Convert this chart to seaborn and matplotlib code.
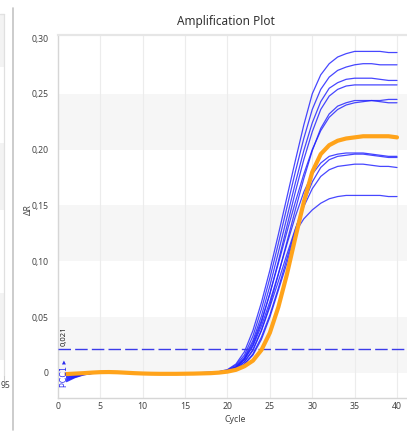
import numpy as np
import pandas as pd
import matplotlib
matplotlib.use("Agg")
import matplotlib.pyplot as plt
from matplotlib.ticker import MultipleLocator
from matplotlib.lines import Line2D
from matplotlib.patches import Rectangle
import seaborn as sns

# ---------------- data ----------------
cycles = list(range(1, 41))

well_1 = [-0.0078, -0.0042, -0.0018, -0.0005, 0.0, 0.0002, 0.0002, 0.0001, 0.0, -0.0001,
          -0.0002, -0.0002, -0.0002, -0.0001, 0.0, 0.0001, 0.0003, 0.0006, 0.0012, 0.003,
          0.008, 0.019, 0.038, 0.063, 0.092, 0.124, 0.157, 0.190, 0.222, 0.250,
          0.267, 0.277, 0.283, 0.286, 0.288, 0.288, 0.288, 0.288, 0.287, 0.287]
well_2 = [-0.0070, -0.0038, -0.0016, -0.0004, 0.0001, 0.0002, 0.0001, 0.0, -0.0001, -0.0002,
          -0.0002, -0.0001, 0.0, 0.0, 0.0001, 0.0002, 0.0003, 0.0005, 0.001, 0.0025,
          0.007, 0.016, 0.033, 0.057, 0.085, 0.116, 0.148, 0.180, 0.210, 0.236,
          0.254, 0.265, 0.271, 0.274, 0.276, 0.277, 0.277, 0.276, 0.276, 0.276]
well_3 = [-0.0062, -0.0034, -0.0014, -0.0003, 0.0, 0.0001, 0.0002, 0.0001, 0.0, -0.0001,
          -0.0001, -0.0002, -0.0001, 0.0, 0.0, 0.0001, 0.0002, 0.0004, 0.0009, 0.002,
          0.006, 0.014, 0.029, 0.051, 0.078, 0.108, 0.139, 0.170, 0.199, 0.224,
          0.243, 0.255, 0.260, 0.263, 0.264, 0.264, 0.264, 0.263, 0.262, 0.262]
well_4 = [-0.0055, -0.0030, -0.0012, -0.0003, 0.0001, 0.0001, 0.0, 0.0, -0.0001, -0.0001,
          -0.0002, -0.0001, -0.0001, 0.0, 0.0001, 0.0001, 0.0002, 0.0003, 0.0008, 0.002,
          0.005, 0.012, 0.025, 0.045, 0.071, 0.100, 0.131, 0.162, 0.191, 0.216,
          0.236, 0.248, 0.254, 0.257, 0.258, 0.258, 0.258, 0.258, 0.258, 0.258]
well_5 = [-0.0047, -0.0025, -0.0010, -0.0002, 0.0, 0.0001, 0.0001, 0.0, 0.0, -0.0001,
          -0.0001, -0.0001, 0.0, 0.0, 0.0, 0.0001, 0.0002, 0.0003, 0.0008, 0.002,
          0.005, 0.013, 0.027, 0.047, 0.071, 0.098, 0.126, 0.153, 0.178, 0.200,
          0.217, 0.229, 0.236, 0.240, 0.242, 0.243, 0.244, 0.244, 0.245, 0.245]
well_6 = [-0.0040, -0.0021, -0.0008, -0.0002, 0.0001, 0.0001, 0.0, 0.0, 0.0, -0.0001,
          -0.0001, -0.0001, -0.0001, 0.0, 0.0, 0.0001, 0.0001, 0.0003, 0.0007, 0.0015,
          0.004, 0.010, 0.020, 0.038, 0.061, 0.088, 0.117, 0.146, 0.174, 0.199,
          0.219, 0.232, 0.239, 0.242, 0.244, 0.244, 0.244, 0.243, 0.242, 0.242]
well_7 = [-0.0032, -0.0017, -0.0007, -0.0001, 0.0, 0.0, 0.0001, 0.0, 0.0, 0.0,
          -0.0001, -0.0001, 0.0, 0.0, 0.0, 0.0001, 0.0001, 0.0003, 0.0008, 0.002,
          0.005, 0.012, 0.024, 0.042, 0.064, 0.089, 0.115, 0.140, 0.162, 0.178,
          0.188, 0.194, 0.196, 0.197, 0.197, 0.197, 0.196, 0.195, 0.194, 0.194]
well_8 = [-0.0025, -0.0013, -0.0005, -0.0001, 0.0, 0.0001, 0.0, 0.0, 0.0, -0.0001,
          0.0, -0.0001, 0.0, 0.0, 0.0, 0.0, 0.0001, 0.0002, 0.0006, 0.0013,
          0.003, 0.008, 0.017, 0.032, 0.052, 0.076, 0.102, 0.128, 0.152, 0.171,
          0.184, 0.191, 0.194, 0.195, 0.196, 0.196, 0.195, 0.194, 0.193, 0.193]
well_9 = [-0.0016, -0.0009, -0.0004, -0.0001, 0.0, 0.0, 0.0, 0.0001, 0.0, 0.0,
          0.0, -0.0001, 0.0, 0.0, 0.0, 0.0, 0.0001, 0.0003, 0.0007, 0.0015,
          0.004, 0.010, 0.021, 0.038, 0.059, 0.082, 0.106, 0.129, 0.149, 0.165,
          0.176, 0.182, 0.185, 0.186, 0.187, 0.187, 0.186, 0.185, 0.185, 0.184]
well_10 = [-0.0008, -0.0005, -0.0002, 0.0, 0.0, 0.0, 0.0, 0.0, 0.0, 0.0,
           0.0, 0.0, 0.0, 0.0, 0.0, 0.0, 0.0001, 0.0002, 0.0006, 0.0013,
           0.003, 0.008, 0.016, 0.030, 0.050, 0.074, 0.098, 0.126, 0.138, 0.146,
           0.152, 0.156, 0.158, 0.159, 0.159, 0.159, 0.159, 0.159, 0.158, 0.158]
highlight_pcc1 = [-0.0010, -0.0006, -0.0002, 0.0003, 0.0007, 0.0008, 0.0006, 0.0002, -0.0002, -0.0005,
                  -0.0007, -0.0008, -0.0008, -0.0008, -0.0007, -0.0006, -0.0004, -0.0002, 0.0003, 0.0012,
                  0.0028, 0.006, 0.011, 0.0205, 0.036, 0.059, 0.088, 0.121, 0.153, 0.180,
                  0.196, 0.204, 0.208, 0.210, 0.211, 0.212, 0.212, 0.212, 0.212, 0.211]

blue_wells = [well_1, well_2, well_3, well_4, well_5, well_6, well_7, well_8, well_9, well_10]
threshold = 0.021
threshold_label = "0,021"
target_label = "PCC1 \u25b8"

xticks = [0, 5, 10, 15, 20, 25, 30, 35, 40]
xtick_labels = ["0", "5", "10", "15", "20", "25", "30", "35", "40"]
yticks = [0.0, 0.05, 0.10, 0.15, 0.20, 0.25, 0.30]
ytick_labels = ["0", "0,05", "0,10", "0,15", "0,20", "0,25", "0,30"]
band_edges = [(0.0, 0.05), (0.10, 0.15), (0.20, 0.25)]

for w in blue_wells + [highlight_pcc1]:
    assert len(w) == len(cycles)

rows = []
for i, w in enumerate(blue_wells):
    for c, v in zip(cycles, w):
        rows.append({"cycle": c, "dR": v, "well": f"W{i+1}"})
df_blue = pd.DataFrame(rows)
df_orange = pd.DataFrame({"cycle": cycles, "dR": highlight_pcc1})

# ---------------- figure ----------------
sns.set_style("white")
plt.rcParams["font.family"] = ["Noto Sans", "DejaVu Sans"]

W, H = 407, 434
fig = plt.figure(figsize=(W / 100, H / 100), dpi=100)

def fx(x):
    return x / W

def fy(y):
    return 1 - y / H

ax_left, ax_right, ax_top, ax_bot = 58, 407, 35, 397.5
ax = fig.add_axes([fx(ax_left), fy(ax_bot), (ax_right - ax_left) / W, (ax_bot - ax_top) / H])
ax.set_xlim(0, 41.18)
ax.set_ylim(-0.022, 0.3027)

for lo, hi in band_edges:
    ax.axhspan(lo, hi, color="#f6f6f6", zorder=0, lw=0)
for xv in xticks[1:]:
    ax.axvline(xv, color="#ececec", lw=0.8, zorder=0.5)

sns.lineplot(data=df_blue, x="cycle", y="dR", units="well", estimator=None,
             color="#1f1fff", lw=0.9, alpha=0.82, ax=ax, legend=False, zorder=3)
sns.lineplot(data=df_orange, x="cycle", y="dR", color="#ffa31a", lw=3.0,
             ax=ax, legend=False, zorder=5)

ax.axhline(threshold, color="#3b3bea", lw=1.0, dashes=(9, 3), zorder=4)
ax.text(0.78, 0.0245, threshold_label, rotation=90, ha="center", va="bottom",
        fontsize=5.5, color="#222222", zorder=6)
ax.text(0.78, -0.0128, target_label, rotation=90, ha="center", va="bottom",
        fontsize=5.8, color="#2a2aee", zorder=6, family=["DejaVu Sans"])

ax.set_xlabel("")
ax.set_ylabel("")
ax.set_xticks(xticks)
ax.set_xticklabels(xtick_labels)
ax.xaxis.set_minor_locator(MultipleLocator(1))
ax.set_yticks(yticks)
ax.set_yticklabels(ytick_labels)
ax.yaxis.set_minor_locator(MultipleLocator(0.01))

ax.tick_params(axis="x", which="both", direction="in", length=4, width=0.8,
               color="#d4d4d4", labelsize=6.3, labelcolor="#444444", pad=3.5)
ax.tick_params(axis="y", which="major", direction="out", length=4, width=0.8,
               color="#d4d4d4", labelsize=6.2, labelcolor="#444444", pad=2.5)
ax.tick_params(axis="y", which="minor", direction="in", length=5, width=0.8,
               color="#d4d4d4")

for s in ["left", "bottom"]:
    ax.spines[s].set_color("#d6d6d6")
    ax.spines[s].set_linewidth(1.0)
ax.spines["top"].set_color("#e6e6e6")
ax.spines["top"].set_linewidth(1.6)
ax.spines["right"].set_visible(False)

fig.text(fx(225.5), fy(21), "Amplification Plot", ha="center", va="center",
         fontsize=8.5, color="#333333")
fig.text(fx(235), fy(420), "Cycle", ha="center", va="center", fontsize=6.3, color="#444444")
fig.text(fx(28), fy(210), "\u0394R", ha="center", va="center", rotation=90,
         fontsize=6.2, color="#444444")

# separator + sliver of neighbouring panel
fig.add_artist(Line2D([fx(13.2), fx(13.2)], [fy(8), fy(430)], color="#c4c4c4", lw=1.2))
for y0, y1 in [(14, 67), (143, 210), (293, 360)]:
    fig.add_artist(Rectangle((0, fy(y1)), fx(3.5), (y1 - y0) / H, color="#f3f3f3", lw=0))
fig.add_artist(Line2D([0, fx(3.5)], [fy(14), fy(14)], color="#e2e2e2", lw=1.0))
fig.add_artist(Line2D([fx(3.5), fx(3.5)], [fy(14), fy(376)], color="#e0e0e0", lw=0.9))
fig.add_artist(Line2D([fx(3.5), fx(3.5)], [fy(376), fy(380)], color="#cccccc", lw=0.8))
fig.text(fx(0.5), fy(386), "95", ha="left", va="center", fontsize=6.2, color="#444444")

fig.savefig("out.png", dpi=100, facecolor="white")
